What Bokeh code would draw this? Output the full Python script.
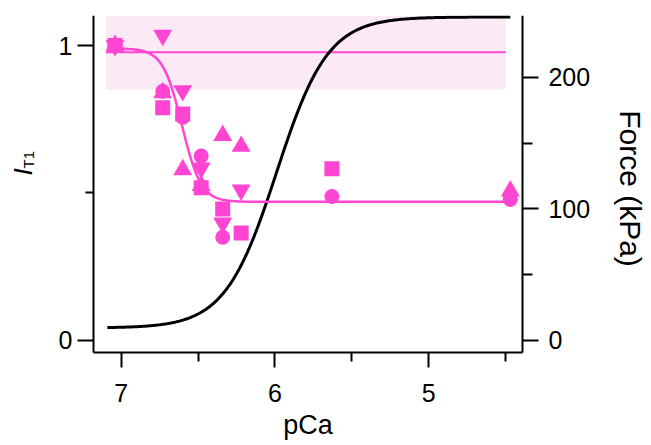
import numpy as np
from math import pi
from bokeh.plotting import figure
from bokeh.models import Range1d, LinearAxis, FixedTicker
from bokeh.core.properties import value
from bokeh.embed import file_html
from bokeh.resources import INLINE

# ---- data ----
circle_pca = [7.04, 6.73, 6.60, 6.48, 6.34, 5.63, 4.47]
circle_it1 = [1.00, 0.845, 0.757, 0.625, 0.350, 0.488, 0.478]
square_pca = [7.04, 6.73, 6.60, 6.48, 6.34, 6.22, 5.63]
square_it1 = [1.00, 0.789, 0.768, 0.518, 0.446, 0.364, 0.582]
triup_pca = [7.04, 6.73, 6.60, 6.48, 6.34, 6.22, 4.47]
triup_it1 = [1.00, 0.84, 0.579, 0.525, 0.695, 0.658, 0.507]
tridown_pca = [7.04, 6.73, 6.60, 6.48, 6.34, 6.22]
tridown_it1 = [1.00, 1.035, 0.847, 0.585, 0.398, 0.510]

# reference level (mean +- SD band) of IT1 in relaxing solution
band_pca = [7.10, 4.50]
band_low = [0.851, 0.851]
band_high = [1.10, 1.10]
ref_level = [0.977, 0.977]

# Hill fit parameters
it1_fit = dict(high=0.99, low=0.47, n=7.0, pca50=6.605)
force_fit = dict(fmin=9.5, fmax=246.0, n=2.6, pca50=5.99)
fit_pca_range = [7.09, 4.47]

x_ticks = [7, 6, 5]
x_minor = [6.5, 5.5, 4.5]
yl_ticks = [0, 1]
yl_minor = [0.5]
yr_ticks = [0, 100, 200]
yr_minor = [50, 150]

# drawn axis extents
pca_left, pca_right = 7.18, 4.391
it1_bottom, it1_top = -0.0407, 1.1017
force_bottom, force_top = -9.1, 247.1
# the frame covers the whole canvas (axis titles live inside it); view limits:
view_pca = (7.7847, 3.5715)
view_it1 = (-0.3492, 1.1017)
view_force = (-78.33, 247.1)

PINK = "#FF45D2"
BAND = "#FCE9F6"
FONT = "Liberation Sans"

pca_fine = np.linspace(fit_pca_range[0], fit_pca_range[1], 300)
it1_curve = it1_fit["low"] + (it1_fit["high"] - it1_fit["low"]) / (
    1 + 10 ** (it1_fit["n"] * (it1_fit["pca50"] - pca_fine)))
force_curve = force_fit["fmin"] + (force_fit["fmax"] - force_fit["fmin"]) / (
    1 + 10 ** (force_fit["n"] * (pca_fine - force_fit["pca50"])))

p = figure(width=648, height=443, output_backend="svg", toolbar_location=None,
           x_range=Range1d(*view_pca), y_range=Range1d(*view_it1),
           min_border_left=0, min_border_right=0, min_border_top=15,
           min_border_bottom=0)
p.extra_y_ranges = {"force": Range1d(*view_force)}
p.outline_line_color = None
p.xgrid.visible = False
p.ygrid.visible = False

# band and reference line
p.varea(x=band_pca, y1=band_low, y2=band_high, fill_color=BAND, fill_alpha=1)
p.line(band_pca, ref_level, line_color=PINK, line_width=2)

# force curve
p.line(pca_fine, force_curve, y_range_name="force", line_color="black", line_width=3)
# IT1 fit
p.line(pca_fine, it1_curve, line_color=PINK, line_width=2.5)

# markers
p.scatter(circle_pca, circle_it1, marker="circle", size=15, fill_color=PINK, line_color=None)
p.scatter(square_pca, square_it1, marker="square", size=15, fill_color=PINK, line_color=None)
p.scatter(triup_pca, triup_it1, marker="triangle", size=19, fill_color=PINK, line_color=None)
p.scatter(tridown_pca, tridown_it1, marker="inverted_triangle", size=19, fill_color=PINK, line_color=None)

right = LinearAxis(y_range_name="force")
p.add_layout(right, "right")


def style(ax, ticks, minor, out_major, out_minor, standoff):
    ax.ticker = FixedTicker(ticks=ticks, minor_ticks=minor)
    ax.axis_line_width = 2
    ax.axis_line_color = "black"
    ax.major_tick_line_width = 2
    ax.minor_tick_line_width = 2
    ax.major_tick_line_color = "black"
    ax.minor_tick_line_color = "black"
    ax.major_tick_in = 0
    ax.minor_tick_in = 0
    ax.major_tick_out = out_major
    ax.minor_tick_out = out_minor
    ax.major_label_text_font = FONT
    ax.major_label_text_font_size = "25px"
    ax.major_label_text_color = "black"
    ax.major_label_standoff = standoff


xax = p.xaxis[0]
yax = p.yaxis[0]
style(xax, x_ticks, x_minor, 15, 9, 17)
style(yax, yl_ticks, yl_minor, 16, 8, 5)
style(right, yr_ticks, yr_minor, 16, 10, 10)

xax.bounds = (pca_right, pca_left)
xax.fixed_location = it1_bottom
yax.bounds = (it1_bottom, it1_top)
yax.fixed_location = pca_left
right.bounds = (force_bottom, force_top)
right.fixed_location = pca_right

# axis titles
p.text(x=[5.7853], y=[-0.2864], text=["pCa"], text_font=value(FONT),
       text_font_size="27px", text_align="center", text_baseline="middle",
       text_color="black")
p.text(x=[3.6913], y=[0.5153], text=["Force (kPa)"], angle=-pi / 2,
       text_font=value(FONT), text_font_size="30px", text_align="center",
       text_baseline="middle", text_color="black")
# I_T1 (italic I with subscript T1)
p.text(x=[7.6358], y=[0.5593], text=["I"], angle=pi / 2,
       text_font=value(FONT), text_font_size="26px", text_font_style="italic",
       text_align="left", text_baseline="middle", text_color="black")
p.text(x=[7.6010], y=[0.583], text=["T1"], angle=pi / 2,
       text_font=value(FONT), text_font_size="15px",
       text_align="left", text_baseline="middle", text_color="black")

open("out.html", "w").write(file_html(p, INLINE))
